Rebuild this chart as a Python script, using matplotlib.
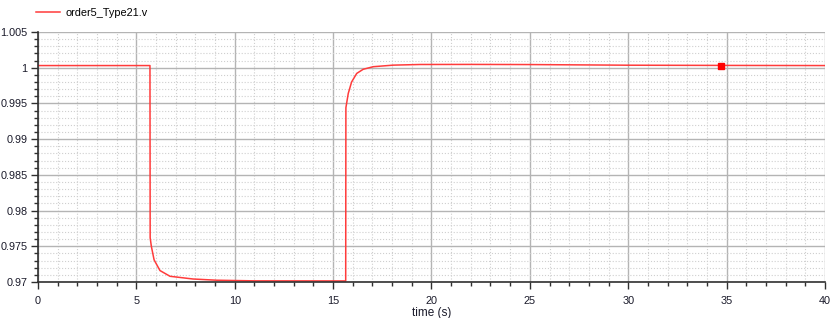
import matplotlib.pyplot as plt
from matplotlib.ticker import MultipleLocator

plt.rcParams['font.family'] = ['Liberation Sans', 'DejaVu Sans']

# signal order5_Type21.v
time = [0.0, 5.69, 5.70, 5.76, 5.90, 6.20, 6.71, 7.88, 9.08, 11.0, 15.64,
        15.65, 15.77, 15.94, 16.20, 16.53, 17.04, 18.06, 19.42, 22.0, 25.0, 30.0, 35.0, 40.0]
voltage = [1.0003, 1.0003, 0.9762, 0.9750, 0.9731, 0.9716, 0.9708, 0.97042, 0.97025, 0.97016, 0.97015,
           0.9944, 0.9964, 0.9980, 0.9992, 0.99978, 1.00014, 1.00036, 1.00045, 1.00046, 1.00044, 1.00035, 1.00032, 1.0003]
marker_t = [34.7]
marker_v = [1.0003]

line_color = '#ff3b3b'
text_color = '#1a1a2a'

fig = plt.figure(figsize=(8.34, 3.18), dpi=100)
ax = fig.add_axes([0.0456, 0.1132, 0.9435, 0.7862])

ax.plot(time, voltage, color=line_color, lw=1.1, label='order5_Type21.v')
ax.plot(marker_t, marker_v, 's', color='red', ms=4.5, mec='red')

ax.set_xlim(0, 40)
ax.set_ylim(0.97, 1.005)
ax.xaxis.set_major_locator(MultipleLocator(5))
ax.xaxis.set_minor_locator(MultipleLocator(1))
ax.yaxis.set_minor_locator(MultipleLocator(0.001))
ax.set_yticks([0.97, 0.975, 0.98, 0.985, 0.99, 0.995, 1.0, 1.005])
ax.set_yticklabels(['0.97', '0.975', '0.98', '0.985', '0.99', '0.995', '1', '1.005'])

ax.grid(which='major', color='#b4b4b4', lw=1.0)
ax.grid(which='minor', color='#cfcfcf', lw=0.8, ls=':')
ax.set_axisbelow(True)

for s in ['top', 'right']:
    ax.spines[s].set_visible(False)
for s in ['left', 'bottom']:
    ax.spines[s].set_color('#303030')
    ax.spines[s].set_linewidth(1.2)

ax.tick_params(which='major', length=5, width=1, color='#303030', labelsize=7.8,
               labelcolor=text_color, pad=2.5)
ax.tick_params(axis='x', which='major', pad=5)
ax.tick_params(which='minor', length=3, width=1, color='#303030')

ax.set_xlabel('time (s)', fontsize=8.5, color=text_color, labelpad=1)

fig.legend(loc='upper left', bbox_to_anchor=(0.032, 1.005), frameon=False,
           fontsize=7.8, handlelength=2.2, handletextpad=0.45)

fig.savefig('out.png', dpi=100)
